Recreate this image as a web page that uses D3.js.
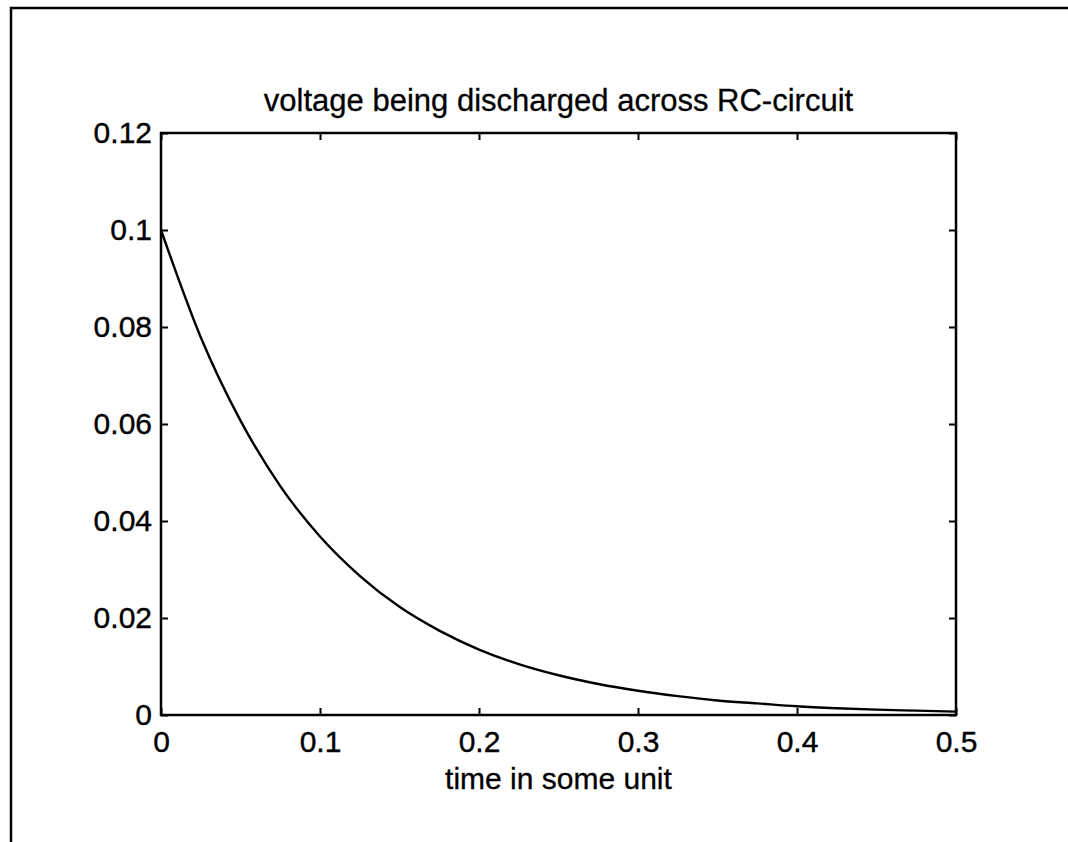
<!DOCTYPE html>
<html>
<head>
<meta charset="utf-8">
<script src="https://cdn.jsdelivr.net/npm/d3@7"></script>
<style>
  body { margin: 0; background: #fff; }
  text { font-family: "Liberation Sans", Arial, sans-serif; fill: #000; }
</style>
</head>
<body>
<div id="canvas"></div>
<script>
// discharge curve
var tVals = [0, 0.025, 0.05, 0.075, 0.1, 0.125, 0.15, 0.175, 0.2, 0.225, 0.25,
             0.275, 0.3, 0.325, 0.35, 0.375, 0.4, 0.425, 0.45, 0.475, 0.5];
var vVals = [0.1, 0.0779, 0.0607, 0.0472, 0.0368, 0.0287, 0.0223, 0.0174, 0.0135, 0.0105, 0.0082,
             0.0064, 0.005, 0.0039, 0.003, 0.0024, 0.0018, 0.0014, 0.0011, 0.0009, 0.0007];
var xTicks = [0, 0.1, 0.2, 0.3, 0.4, 0.5];
var yTicks = [0, 0.02, 0.04, 0.06, 0.08, 0.1, 0.12];
var title = 'voltage being discharged across RC-circuit';
var xLabel = 'time in some unit';

var W = 1068, H = 842;
var m = {t:133, r:112, b:127, l:161};
var w = W - m.l - m.r,
    h = H - m.t - m.b;

var svg = d3.select('#canvas')
    .append('svg')
    .attr('width', W)
    .attr('height', H);

// scanned page frame (top + left edges)
svg.append('path')
    .attr('d', 'M11,842 L11,8 L1068,8')
    .attr('fill', 'none')
    .attr('stroke', '#000')
    .attr('stroke-width', 2.5);

var plot = svg.append('g')
    .attr('transform', 'translate(' + m.l + ',' + m.t + ')');

var scaleX = d3.scaleLinear().domain([0, 0.5]).range([0, w]);
var scaleY = d3.scaleLinear().domain([0, 0.12]).range([h, 0]);

var fmt = function(d){ return d === 0 ? '0' : String(+d.toFixed(2)); };

// inward ticks on all four sides
var axes = [
    {axis: d3.axisBottom(scaleX).tickValues(xTicks).tickSize(-7).tickPadding(16).tickFormat(fmt), tr: 'translate(0,' + h + ')'},
    {axis: d3.axisTop(scaleX).tickValues(xTicks).tickSize(-7).tickFormat(''), tr: 'translate(0,0)'},
    {axis: d3.axisLeft(scaleY).tickValues(yTicks).tickSize(-7).tickPadding(9).tickFormat(fmt), tr: 'translate(0,0)'},
    {axis: d3.axisRight(scaleY).tickValues(yTicks).tickSize(-7).tickFormat(''), tr: 'translate(' + w + ',0)'}
];
axes.forEach(function(a){
    var g = plot.append('g').attr('transform', a.tr).call(a.axis);
    g.select('.domain').remove();
    g.selectAll('line').attr('stroke', '#000').attr('stroke-width', 2);
    g.selectAll('text')
        .style('font-family', '"Liberation Sans", Arial, sans-serif')
        .style('font-size', '30px')
        .attr('fill', '#000')
        .attr('stroke', '#000')
        .attr('stroke-width', 0.4);
});

plot.append('rect')
    .attr('width', w)
    .attr('height', h)
    .attr('fill', 'none')
    .attr('stroke', '#000')
    .attr('stroke-width', 2.5);

var line = d3.line()
    .x(function(d, i){ return scaleX(tVals[i]); })
    .y(function(d){ return scaleY(d); })
    .curve(d3.curveMonotoneX);

plot.append('path')
    .datum(vVals)
    .attr('d', line)
    .attr('fill', 'none')
    .attr('stroke', '#000')
    .attr('stroke-width', 2.4);

plot.append('text')
    .attr('x', w/2)
    .attr('y', -22)
    .attr('text-anchor', 'middle')
    .style('font-size', '31px')
    .attr('stroke', '#000')
    .attr('stroke-width', 0.3)
    .text(title);

plot.append('text')
    .attr('x', w/2)
    .attr('y', h + 74)
    .attr('text-anchor', 'middle')
    .style('font-size', '30px')
    .attr('stroke', '#000')
    .attr('stroke-width', 0.3)
    .text(xLabel);
</script>
</body>
</html>
